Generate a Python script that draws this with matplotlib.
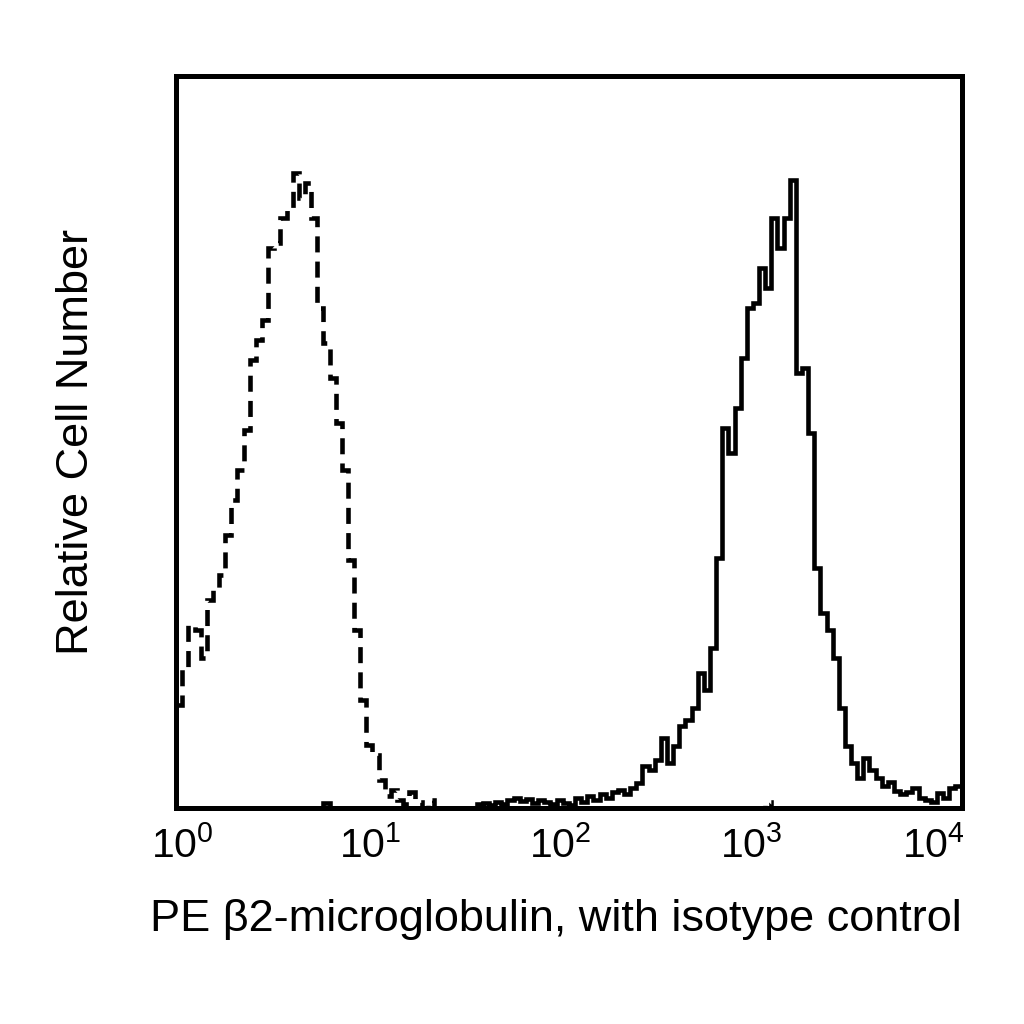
import numpy as np
import matplotlib
matplotlib.use("Agg")
import matplotlib.pyplot as plt
import matplotlib.transforms as mtransforms

plt.rcParams['font.family'] = ['Liberation Sans', 'DejaVu Sans']
plt.rcParams['mathtext.fontset'] = 'custom'
plt.rcParams['mathtext.rm'] = 'Liberation Sans'
plt.rcParams['mathtext.it'] = 'Liberation Sans'

# 128 channels, 32 per decade, from 10^0 to 10^4
bin_edges = 10 ** (np.arange(129) / 32.0)

# isotype control (dashed)
isotype_counts = [
    103, 140, 183, 178, 150, 208, 218, 233, 273, 308, 338, 378, 448, 468, 488, 560,
    565, 590, 600, 635, 610, 625, 590, 500, 465, 430, 385, 338, 248, 178, 108, 63,
    53, 28, 12, 18, 8, 4, 16, 6, 0, 8, 0, 0, 0, 0, 0, 0,
    0, 0, 0, 0, 0, 0, 0, 0, 0, 0, 0, 0, 0, 0, 0, 0,
    0, 0, 0, 0, 0, 0, 0, 0, 0, 0, 0, 0, 0, 0, 0, 0,
    0, 0, 0, 0, 0, 0, 0, 0, 0, 0, 0, 0, 0, 0, 0, 0,
    6, 0, 0, 0, 0, 0, 0, 0, 0, 0, 0, 0, 0, 0, 0, 0,
    0, 0, 0, 0, 0, 0, 0, 0, 0, 0, 0, 0, 0, 0, 0, 0,
]

# PE beta2-microglobulin (solid)
stained_counts = [
    0, 0, 0, 0, 0, 0, 0, 0, 0, 0, 0, 0, 0, 0, 0, 0,
    0, 0, 0, 0, 0, 0, 0, 0, 5, 0, 0, 0, 0, 0, 0, 0,
    0, 0, 0, 0, 0, 0, 0, 0, 0, 0, 0, 0, 0, 0, 0, 0,
    0, 4, 5, 3, 6, 4, 8, 10, 7, 9, 5, 8, 6, 4, 8, 5,
    3, 10, 6, 12, 8, 14, 10, 16, 18, 14, 20, 25, 42, 38, 48, 70,
    45, 62, 82, 88, 100, 135, 118, 160, 250, 380, 355, 400, 450, 500, 505, 540,
    520, 590, 560, 590, 628, 435, 440, 375, 240, 195, 178, 150, 100, 62, 45, 30,
    50, 38, 30, 22, 26, 17, 14, 16, 20, 10, 8, 6, 15, 10, 20, 22,
]

tick_vals = [1, 10, 100, 1000, 10000]
tick_labels = [r'$10^{0}$', r'$10^{1}$', r'$10^{2}$', r'$10^{3}$', r'$10^{4}$']

fig = plt.figure(figsize=(10.24, 10.24), dpi=100)
ax = fig.add_axes([0.172, 0.211, 0.767, 0.715])

ax.stairs(isotype_counts, bin_edges, baseline=None, color='black',
          linewidth=3.3, linestyle=(0, (3.5, 2.0)))
ax.stairs(stained_counts, bin_edges, baseline=None, color='black',
          linewidth=3.3)

ax.set_xscale('log')
ax.set_xlim(1, 10000)
ax.set_ylim(0, 732)
ax.set_xticks(tick_vals)
ax.set_xticklabels(tick_labels, fontsize=29.5)
ax.minorticks_off()
ax.tick_params(axis='x', length=0, pad=13)
ax.set_yticks([])
for s in ax.spines.values():
    s.set_linewidth(3.6)

# labels in the original sit a bit inward of the decade positions
label_shift_px = [6, -2, -9, -14, -28]
for lab, dx in zip(ax.get_xticklabels(), label_shift_px):
    lab.set_transform(lab.get_transform() +
                      mtransforms.ScaledTranslation(dx / 100.0, 0, fig.dpi_scale_trans))

ax.set_xlabel(u'PE \u03b22-microglobulin, with isotype control', fontsize=32.5)
ax.xaxis.set_label_coords(0.484, -0.125)
ax.set_ylabel('Relative Cell Number', fontsize=32.5)
ax.yaxis.set_label_coords(-0.101, 0.5)

fig.savefig('out.png', dpi=100)
